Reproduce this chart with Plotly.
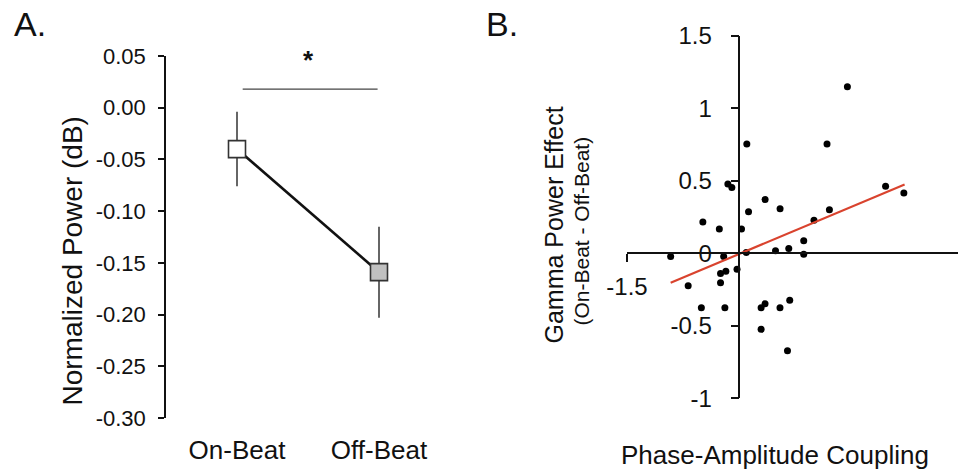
import plotly.graph_objects as go

# ---------------- data ----------------
# Panel A
categories = ["On-Beat", "Off-Beat"]
cat_pos = [0, 1]
power_mean = [-0.040, -0.159]
power_err = [0.036, 0.044]
marker_fill = ["white", "#c0c0c0"]
a_ticks = [0.05, 0.00, -0.05, -0.10, -0.15, -0.20, -0.25, -0.30]
a_ticktext = ["0.05", "0.00", "-0.05", "-0.10", "-0.15", "-0.20", "-0.25", "-0.30"]
sig_x = [0.04, 0.99]
sig_y = 0.018
star_xy = [0.5, 0.046]

# Panel B
pac_x = [1.443, 0.10, 1.171, -0.153, -0.10, 1.953, 2.197, 0.344, 0.544, 0.123,
         1.203, -0.487, -0.267, 0.029, 0.997, 0.86, 0.483, 0.66, 0.86, -0.917,
         -0.209, 0.093, -0.251, -0.18, -0.031, -0.251, -0.683, -0.507, -0.193, 0.291,
         0.343, 0.543, 0.673, 0.291, 0.643]
gamma_y = [1.149, 0.754, 0.754, 0.478, 0.455, 0.464, 0.416, 0.371, 0.308, 0.287,
           0.301, 0.216, 0.168, 0.168, 0.228, 0.087, 0.018, 0.033, -0.006, -0.022,
           -0.022, 0.006, -0.138, -0.124, -0.110, -0.203, -0.223, -0.375, -0.375, -0.375,
           -0.348, -0.375, -0.324, -0.524, -0.672]
fit_x = [-0.917, 2.207]
fit_y = [-0.203, 0.476]
b_yticks = [1.5, 1, 0.5, 0, -0.5, -1]
b_yticktext = ["1.5", "1", "0.5", "0", "-0.5", "-1"]
b_xticks = [-1.5]
b_xticktext = ["-1.5"]

# ---------------- layout helpers ----------------
W, H = 958, 472
FONT = "Liberation Sans, Arial, Helvetica, sans-serif"
INK = "#111111"


def fx(px):
    return px / W


def fy(py):
    return 1 - py / H


a_xdom = [fx(166), fx(450)]
a_ydom = [fy(418), fy(56)]
a_xrange = [-0.5, 1.5]
a_yrange = [-0.30, 0.05]

b_xdom = [fx(627), 1.0]
b_ydom = [fy(398.3), fy(36)]
b_xrange = [-1.5, 2.92]
b_yrange = [-1, 1.5]
# position of x=0 / y=0 in paper coords (axes cross at origin)
b_x0 = b_xdom[0] + (0 - b_xrange[0]) / (b_xrange[1] - b_xrange[0]) * (b_xdom[1] - b_xdom[0])
b_y0 = b_ydom[0] + (0 - b_yrange[0]) / (b_yrange[1] - b_yrange[0]) * (b_ydom[1] - b_ydom[0])

fig = go.Figure()

# Panel A: error bars + connecting line
fig.add_trace(go.Scatter(
    x=cat_pos, y=power_mean, mode="lines",
    line=dict(color=INK, width=2.6),
    error_y=dict(type="data", array=power_err, visible=True,
                 color="#333333", thickness=1.5, width=0),
    xaxis="x", yaxis="y", showlegend=False, hoverinfo="skip"))
# Panel A markers
fig.add_trace(go.Scatter(
    x=cat_pos, y=power_mean, mode="markers",
    marker=dict(symbol="square", size=17, color=marker_fill,
                line=dict(color="#333333", width=1.6)),
    xaxis="x", yaxis="y", showlegend=False))

# Panel B scatter
fig.add_trace(go.Scatter(
    x=pac_x, y=gamma_y, mode="markers",
    marker=dict(size=7, color="black"),
    xaxis="x2", yaxis="y2", showlegend=False, cliponaxis=False))
fig.add_trace(go.Scatter(
    x=fit_x, y=fit_y, mode="lines",
    line=dict(color="#d9432e", width=2.2),
    xaxis="x2", yaxis="y2", showlegend=False, cliponaxis=False))

common = dict(showgrid=False, zeroline=False, fixedrange=True, automargin=False)

fig.update_layout(
    template="none",
    width=W, height=H,
    margin=dict(l=0, r=0, t=0, b=0, pad=0, autoexpand=False),
    paper_bgcolor="white", plot_bgcolor="rgba(0,0,0,0)",
    font=dict(family=FONT, color=INK),
    showlegend=False,
    xaxis=dict(domain=a_xdom, range=a_xrange, anchor="y",
               tickvals=cat_pos, ticktext=categories, ticks="",
               showline=False, tickfont=dict(size=26, color=INK),
               ticklabelstandoff=14, **common),
    yaxis=dict(domain=a_ydom, range=a_yrange, anchor="x",
               tickvals=a_ticks, ticktext=a_ticktext,
               showline=True, linecolor=INK, linewidth=1.5,
               ticks="outside", ticklen=6, tickwidth=1.5, tickcolor=INK,
               tickfont=dict(size=22, color=INK), ticklabelstandoff=8, **common),
    yaxis3=dict(range=a_yrange, anchor="x", overlaying="y", side="left",
                tickvals=a_ticks, showticklabels=False, showline=False,
                ticks="inside", ticklen=7, tickwidth=1.5, tickcolor=INK, **common),
    xaxis2=dict(domain=b_xdom, range=b_xrange, anchor="free", position=b_y0,
                tickvals=b_xticks, ticktext=b_xticktext,
                showline=True, linecolor=INK, linewidth=1.5,
                ticks="outside", ticklen=8, tickwidth=1.5, tickcolor=INK,
                tickfont=dict(size=24, color=INK), ticklabelstandoff=4, **common),
    yaxis2=dict(domain=b_ydom, range=b_yrange, anchor="free", position=b_x0,
                tickvals=b_yticks, ticktext=b_yticktext,
                showline=True, linecolor=INK, linewidth=1.5,
                ticks="outside", ticklen=8, tickwidth=1.5, tickcolor=INK,
                tickfont=dict(size=24, color=INK), ticklabelstandoff=14, **common),
    xaxis4=dict(range=b_xrange, anchor="free", position=b_y0, overlaying="x2",
                tickvals=b_xticks, showticklabels=False, showline=False,
                ticks="inside", ticklen=7, tickwidth=1.5, tickcolor=INK, **common),
    yaxis4=dict(range=b_yrange, anchor="free", position=b_x0, overlaying="y2",
                tickvals=b_yticks, showticklabels=False, showline=False,
                ticks="inside", ticklen=8, tickwidth=1.5, tickcolor=INK, **common),
)

# significance bar
fig.add_shape(type="line", xref="x", yref="y",
              x0=sig_x[0], x1=sig_x[1], y0=sig_y, y1=sig_y,
              line=dict(color="#444444", width=1.3))

annos = [
    dict(text="A.", x=fx(12), y=fy(24), xanchor="left", yanchor="middle",
         font=dict(size=34)),
    dict(text="B.", x=fx(484), y=fy(24), xanchor="left", yanchor="middle",
         font=dict(size=34)),
    dict(text="Normalized Power (dB)", x=fx(71.5), y=fy(261), textangle=-90,
         xanchor="center", yanchor="middle", font=dict(size=28)),
    dict(text="Gamma Power Effect", x=fx(553), y=fy(225.5), textangle=-90,
         xanchor="center", yanchor="middle", font=dict(size=25)),
    dict(text="(On-Beat - Off-Beat)", x=fx(581), y=fy(231.5), textangle=-90,
         xanchor="center", yanchor="middle", font=dict(size=21)),
    dict(text="Phase-Amplitude Coupling", x=fx(775), y=fy(455),
         xanchor="center", yanchor="middle", font=dict(size=26)),
]
for a in annos:
    fig.add_annotation(xref="paper", yref="paper", showarrow=False, **a)

fig.add_annotation(xref="x", yref="y", x=star_xy[0], y=star_xy[1], text="<b>*</b>",
                   showarrow=False, xanchor="center", yanchor="middle",
                   font=dict(size=26))

fig.write_html("out.html")
